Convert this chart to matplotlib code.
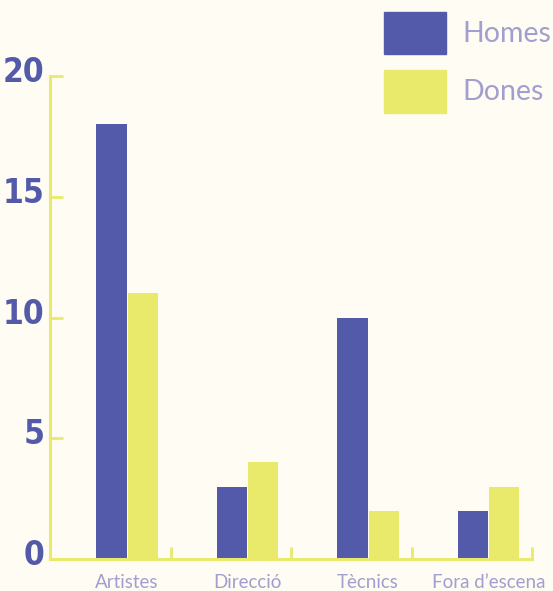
import matplotlib
matplotlib.use("Agg")
import matplotlib.pyplot as plt
import matplotlib.transforms as mtransforms
import numpy as np
from matplotlib.patches import Patch

# data
categories = ["Artistes", "Direcció", "Tècnics", "Fora d\u2019escena"]
homes = [18, 3, 10, 2]
dones = [11, 4, 2, 3]
y_ticks = [0, 5, 10, 15, 20]

BG = "#fefcf3"
BLUE = "#525aa9"
YELLOW = "#e9e96c"
LABEL = "#a29ed0"

fig = plt.figure(figsize=(5.53, 5.91), dpi=100, facecolor=BG)
ax = fig.add_axes([50 / 553, 32 / 591, 482 / 553, 483 / 591])
ax.set_facecolor(BG)

x = np.arange(len(categories))
offset = 0.14
w = 0.25
ax.bar(x + offset - w / 2 - 0.005, homes, width=w, color=BLUE, label="Homes", zorder=2)
ax.bar(x + offset + w / 2 + 0.005, dones, width=w, color=YELLOW, label="Dones", zorder=2)

ax.set_xlim(-0.5, len(categories) - 0.5)
ax.set_ylim(0, 20)

for s in ["top", "right"]:
    ax.spines[s].set_visible(False)
for s in ["left", "bottom"]:
    ax.spines[s].set_color(YELLOW)
    ax.spines[s].set_linewidth(2.2)

ax.set_yticks(y_ticks)
ax.set_yticklabels([str(v) for v in y_ticks], fontsize=24, fontweight="bold",
                   fontstretch="condensed", color=BLUE, family="DejaVu Sans",
                   va="center_baseline")
ax.tick_params(axis="y", direction="in", length=9, width=2, color=YELLOW, pad=4)
# labels sit a little above their ticks in the original
shift = mtransforms.ScaledTranslation(0, 5 / 72, fig.dpi_scale_trans)
for lbl in ax.get_yticklabels():
    lbl.set_transform(lbl.get_transform() + shift)

ax.set_xticks(x + offset)
ax.set_xticklabels(categories, fontsize=13.5, color=LABEL, family=["Lato", "DejaVu Sans"])
ax.set_xticks(np.arange(-0.5, len(categories)), minor=True)
ax.tick_params(axis="x", which="major", length=0, pad=10.5)
ax.tick_params(axis="x", which="minor", direction="in", length=9, width=2, color=YELLOW)

handles = [Patch(color=BLUE, label="Homes"), Patch(color=YELLOW, label="Dones")]
fig.legend(handles=handles, loc="upper left", bbox_to_anchor=(381 / 553, 1 - 9 / 591),
           frameon=False, labelcolor=LABEL, prop={"family": "Lato", "size": 20.5},
           handlelength=2.2, handleheight=1.92, labelspacing=0.55, handletextpad=0.55,
           borderpad=0.1, borderaxespad=0)

fig.savefig("out.png", dpi=100, facecolor=BG)
